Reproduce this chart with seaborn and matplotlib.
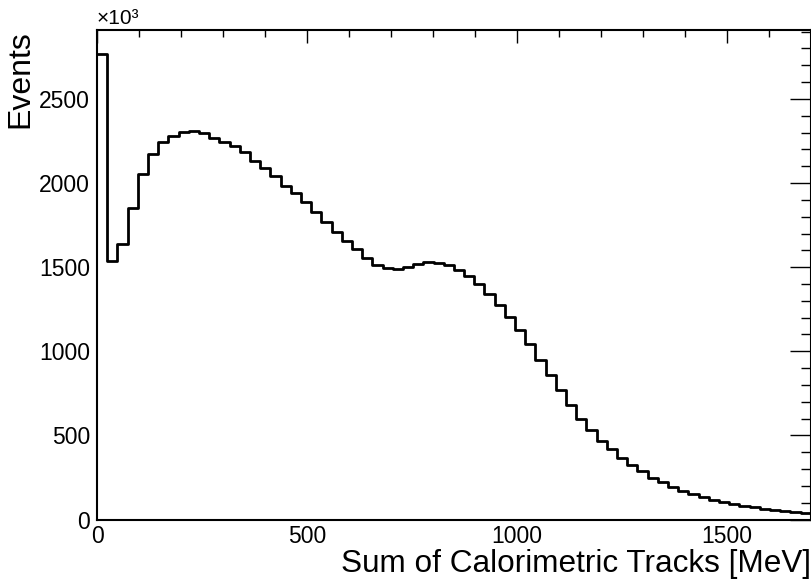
import numpy as np
import pandas as pd
import matplotlib
matplotlib.use("Agg")
import matplotlib.pyplot as plt
from matplotlib.ticker import MultipleLocator
import seaborn as sns

# histogram range and binning (70 bins, 0-1700 MeV)
x_min, x_max, n_bins = 0, 1700, 70

# bin contents in units of 10^3 events
counts = [2770, 1534, 1639, 1851, 2055, 2170, 2247, 2277, 2306, 2310,
          2296, 2269, 2247, 2221, 2187, 2134, 2088, 2043, 1983, 1940,
          1890, 1831, 1768, 1708, 1653, 1608, 1554, 1514, 1495, 1489,
          1504, 1516, 1528, 1524, 1514, 1481, 1445, 1400, 1340, 1277,
          1201, 1128, 1045, 950, 857, 768, 683, 600, 534, 469,
          420, 366, 327, 287, 248, 222, 194, 172, 154, 135,
          119, 105, 93, 82, 73, 64, 57, 50, 44, 39]

x_label = "Sum of Calorimetric Tracks [MeV]"
y_label = "Events"

sns.set_theme(style="white")
plt.rcParams['font.family'] = ['Liberation Sans', 'DejaVu Sans']
plt.rcParams['text.color'] = 'black'
plt.rcParams['axes.labelcolor'] = 'black'

edges = np.linspace(x_min, x_max, n_bins + 1)
df = pd.DataFrame({"center": 0.5 * (edges[:-1] + edges[1:]), "count": counts})

fig = plt.figure(figsize=(8.12, 5.81), dpi=100)
ax = fig.add_axes([0.1195, 0.1058, 0.879, 0.8426])

sns.histplot(data=df, x="center", weights="count", bins=list(edges),
             element="step", fill=False, color="black", linewidth=2.0, ax=ax)

ax.set_xlim(x_min, x_max)
ax.set_ylim(0, 2910)

ax.xaxis.set_major_locator(MultipleLocator(500))
ax.xaxis.set_minor_locator(MultipleLocator(100))
ax.yaxis.set_major_locator(MultipleLocator(500))
ax.yaxis.set_minor_locator(MultipleLocator(100))

ax.tick_params(axis='both', which='both', direction='in', top=True, right=True,
               colors='black', labelsize=16.5, width=1.0)
ax.tick_params(axis='x', which='major', length=9, pad=4)
ax.tick_params(axis='x', which='minor', length=5)
ax.tick_params(axis='y', which='major', length=15, pad=5)
ax.tick_params(axis='y', which='minor', length=7.5)

for sp in ax.spines.values():
    sp.set_color('black')
    sp.set_linewidth(1.5)

ax.set_xlabel(x_label, fontsize=22.7, loc='right', labelpad=1)
ax.set_ylabel(y_label, fontsize=23, loc='top', labelpad=3)

ax.text(0.0, 1.004, "×10³", transform=ax.transAxes, fontsize=15,
        ha='left', va='bottom')

fig.savefig("out.png", dpi=100)
